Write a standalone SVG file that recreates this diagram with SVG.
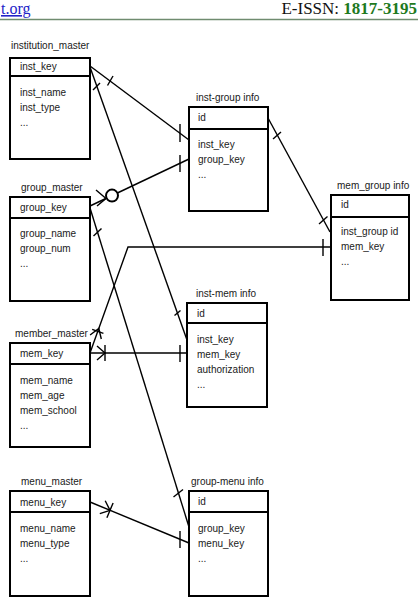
<svg xmlns="http://www.w3.org/2000/svg" width="418" height="606" viewBox="0 0 418 606">
<style>
.t{font-family:"Liberation Sans",Arial,sans-serif;font-size:10px;fill:#1a1a1a}
.box{fill:#fff;stroke:#000;stroke-width:2}
.div{stroke:#000;stroke-width:2}
.c{fill:none;stroke:#000;stroke-width:1.4}
</style>
<rect width="418" height="606" fill="#fff"/>
<g id="header">
<text x="1" y="14" font-family="'Liberation Serif','Times New Roman',serif" font-size="16" fill="#2323c8" text-decoration="underline">t.org</text>
<text x="417" y="14" text-anchor="end" font-family="'Liberation Serif','Times New Roman',serif" font-size="17" fill="#111">E-ISSN: <tspan font-weight="bold" fill="#1e7a1e">1817-3195</tspan></text>
<line x1="0" y1="19.5" x2="418" y2="19.5" stroke="#6f8c6f" stroke-width="1.5"/>
</g>

<g id="connectors">
<!-- inst_key -> inst-group -->
<line class="c" x1="90" y1="66" x2="189" y2="140"/>
<line class="c" x1="107.5" y1="85.5" x2="113" y2="76"/>
<line class="c" x1="180" y1="124" x2="180" y2="142"/>
<!-- inst_key -> inst-mem -->
<line class="c" x1="90" y1="67" x2="187" y2="340"/>
<line class="c" x1="93" y1="90" x2="100" y2="83"/>
<line class="c" x1="174.5" y1="315.5" x2="180.5" y2="310.5"/>
<!-- group_key -> inst-group -->
<line class="c" x1="90" y1="206" x2="189" y2="159"/>
<polyline class="c" points="96,190 106,198.4 97,206"/>
<circle cx="112" cy="195.6" r="6" fill="#fff" stroke="#000" stroke-width="2"/>
<line class="c" x1="180" y1="155" x2="180" y2="172"/>
<!-- group_key -> group-menu -->
<line class="c" x1="90" y1="208" x2="189" y2="527"/>
<line class="c" x1="93.5" y1="236" x2="101.5" y2="228.5"/>
<line class="c" x1="173.5" y1="497" x2="183" y2="489.5"/>
<!-- mem_key -> mem_group -->
<polyline class="c" points="90,353 128,247 331,247"/>
<polyline class="c" points="101.3,339 98.8,328.5 90.1,335"/>
<line class="c" x1="92.2" y1="329.4" x2="103.4" y2="333.4"/>
<line class="c" x1="323" y1="239" x2="323" y2="256"/>
<!-- mem_key -> inst-mem -->
<line class="c" x1="90" y1="353" x2="187" y2="353"/>
<polyline class="c" points="97,346 105,353 97,360"/>
<line class="c" x1="105" y1="345" x2="105" y2="361"/>
<line class="c" x1="180" y1="345" x2="180" y2="362"/>
<!-- menu_key -> group-menu -->
<line class="c" x1="90" y1="502" x2="189" y2="543"/>
<polyline class="c" points="105.2,500.7 110,510.3 99.8,513.7"/>
<line class="c" x1="113.1" y1="502.9" x2="106.9" y2="517.7"/>
<line class="c" x1="180" y1="531" x2="180" y2="548"/>
<!-- inst-group id -> mem_group -->
<line class="c" x1="268" y1="118" x2="330" y2="232"/>
<line class="c" x1="273" y1="139" x2="281" y2="132"/>
<line class="c" x1="319" y1="224" x2="327.5" y2="216.5"/>
</g>

<g id="institution_master">
<text class="t" x="11" y="49">institution_master</text>
<rect class="box" x="10" y="58" width="80" height="101"/>
<line class="div" x1="10" y1="76" x2="90" y2="76"/>
<text class="t" x="20" y="70">inst_key</text>
<text class="t" x="20" y="96">inst_name</text>
<text class="t" x="20" y="111">inst_type</text>
<text class="t" x="20" y="126">...</text>
</g>

<g id="group_master">
<text class="t" x="21" y="191">group_master</text>
<rect class="box" x="10" y="197" width="80" height="104"/>
<line class="div" x1="10" y1="218" x2="90" y2="218"/>
<text class="t" x="20" y="211">group_key</text>
<text class="t" x="20" y="237">group_name</text>
<text class="t" x="20" y="252">group_num</text>
<text class="t" x="20" y="267">...</text>
</g>

<g id="member_master">
<text class="t" x="15" y="337">member_master</text>
<rect class="box" x="10" y="343" width="80" height="104"/>
<line class="div" x1="10" y1="364" x2="90" y2="364"/>
<text class="t" x="20" y="357">mem_key</text>
<text class="t" x="20" y="384">mem_name</text>
<text class="t" x="20" y="399">mem_age</text>
<text class="t" x="20" y="414">mem_school</text>
<text class="t" x="20" y="429">...</text>
</g>

<g id="menu_master">
<text class="t" x="21" y="485">menu_master</text>
<rect class="box" x="10" y="491" width="80" height="105"/>
<line class="div" x1="10" y1="512" x2="90" y2="512"/>
<text class="t" x="20" y="506">menu_key</text>
<text class="t" x="20" y="532">menu_name</text>
<text class="t" x="20" y="547">menu_type</text>
<text class="t" x="20" y="562">...</text>
</g>

<g id="inst-group_info">
<text class="t" x="196" y="101">inst-group info</text>
<rect class="box" x="189" y="107" width="79" height="104"/>
<line class="div" x1="189" y1="129" x2="268" y2="129"/>
<text class="t" x="198" y="121">id</text>
<text class="t" x="198" y="148">inst_key</text>
<text class="t" x="198" y="163">group_key</text>
<text class="t" x="198" y="178">...</text>
</g>

<g id="mem_group_info">
<text class="t" x="337" y="189">mem_group info</text>
<rect class="box" x="331" y="195" width="78" height="105"/>
<line class="div" x1="331" y1="217" x2="409" y2="217"/>
<text class="t" x="341" y="208">id</text>
<text class="t" x="341" y="235">inst_group id</text>
<text class="t" x="341" y="250">mem_key</text>
<text class="t" x="341" y="265">...</text>
</g>

<g id="inst-mem_info">
<text class="t" x="196" y="297">inst-mem info</text>
<rect class="box" x="187" y="303" width="80" height="104"/>
<line class="div" x1="187" y1="323" x2="267" y2="323"/>
<text class="t" x="197" y="317">id</text>
<text class="t" x="197" y="343">inst_key</text>
<text class="t" x="197" y="358">mem_key</text>
<text class="t" x="197" y="373">authorization</text>
<text class="t" x="197" y="388">...</text>
</g>

<g id="group-menu_info">
<text class="t" x="191" y="485">group-menu info</text>
<rect class="box" x="189" y="491" width="79" height="105"/>
<line class="div" x1="189" y1="512" x2="268" y2="512"/>
<text class="t" x="198" y="505">id</text>
<text class="t" x="198" y="532">group_key</text>
<text class="t" x="198" y="547">menu_key</text>
<text class="t" x="198" y="562">...</text>
</g>
</svg>
